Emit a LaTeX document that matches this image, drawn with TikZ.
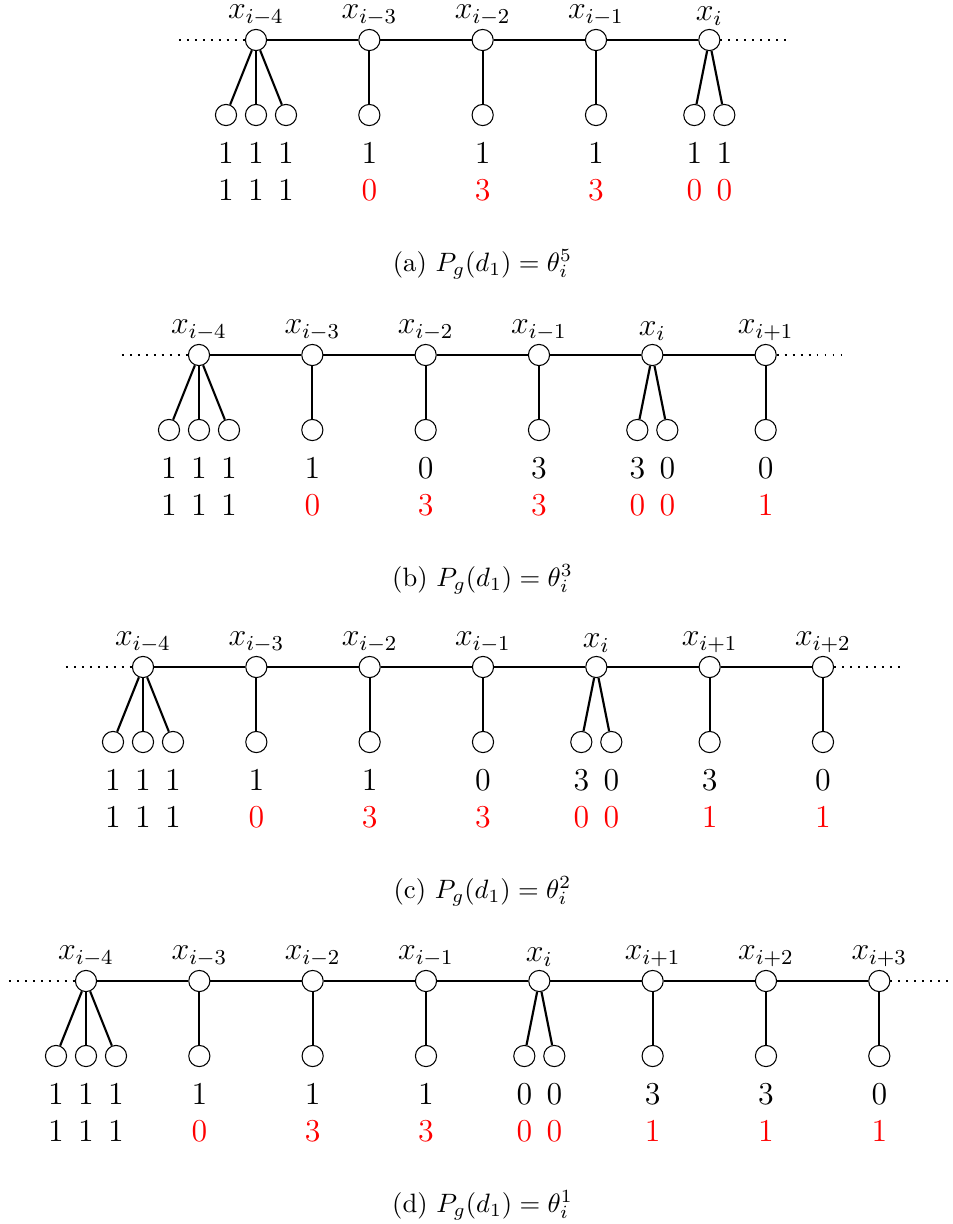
\documentclass[tikz,border=0pt]{standalone}
\usetikzlibrary{calc}
\newcommand\mkpanel[7]{%
  \foreach \k/\lab in {#5} {%
    \node[vtx, label={[lbl]above:$x_{\lab}$}] (#1\k) at ({#3+113.33*\k}, #2) {};
  }
  \foreach \k in {1,...,#4} {%
    \pgfmathtruncatemacro\kp{\k-1}
    \draw[edge] (#1\kp) -- (#1\k);
  }
  \coordinate (#1dl) at ($(#10.west)+(-66,0)$);
  \coordinate (#1dr) at ($(#1#4.east)+(66,0)$);
  \draw[dotline] (#1dl) -- (#10.west);
  \draw[dotline] (#1#4.east) -- (#1dr);
  \foreach \p/\o/\t/\b/\c [count=\j] in {#6} {%
    \node[vtx] (#1L\j) at ($(#1\p)+(\o,75)$) {};
    \draw[edge] (#1\p) -- (#1L\j);
    \node[numtxt] (#1T\j) at ($(#1L\j)+(0,38)$) {\t};
    \node[numtxt, text=\c] (#1B\j) at ($(#1L\j)+(0,75)$) {\b};
  }
  \node[captxt] (#1cap) at (482.5, #2+224) {#7};
}
\begin{document}
\begin{tikzpicture}[x=0.013235cm,y=-0.013235cm,
  vtx/.style={circle,draw,thin,fill=white,minimum size=0.28cm,inner sep=0pt},
  lbl/.style={inner sep=1pt,font=\fontsize{12}{14}\selectfont},
  edge/.style={thick},
  dotline/.style={line width=0.7pt,dash pattern=on 0.7pt off 2.3pt},
  numtxt/.style={inner sep=0pt,font=\fontsize{12}{14}\selectfont},
  captxt/.style={inner sep=0pt,font=\fontsize{10}{12}\selectfont}]
\useasboundingbox (0,0) rectangle (953,1224);

\mkpanel{a}{40}{256}{4}{0/i-4,1/i-3,2/i-2,3/i-1,4/i}
  {0/-30/1/1/black,0/0/1/1/black,0/30/1/1/black,1/0/1/0/red,2/0/1/3/red,3/0/1/3/red,4/-15/1/0/red,4/15/1/0/red}
  {(a) $P_g(d_1)=\theta_i^5$}

\mkpanel{b}{355}{199}{5}{0/i-4,1/i-3,2/i-2,3/i-1,4/i,5/i+1}
  {0/-30/1/1/black,0/0/1/1/black,0/30/1/1/black,1/0/1/0/red,2/0/0/3/red,3/0/3/3/red,4/-15/3/0/red,4/15/0/0/red,5/0/0/1/red}
  {(b) $P_g(d_1)=\theta_i^3$}

\mkpanel{c}{667}{143}{6}{0/i-4,1/i-3,2/i-2,3/i-1,4/i,5/i+1,6/i+2}
  {0/-30/1/1/black,0/0/1/1/black,0/30/1/1/black,1/0/1/0/red,2/0/1/3/red,3/0/0/3/red,4/-15/3/0/red,4/15/0/0/red,5/0/3/1/red,6/0/0/1/red}
  {(c) $P_g(d_1)=\theta_i^2$}

\mkpanel{d}{981}{86}{7}{0/i-4,1/i-3,2/i-2,3/i-1,4/i,5/i+1,6/i+2,7/i+3}
  {0/-30/1/1/black,0/0/1/1/black,0/30/1/1/black,1/0/1/0/red,2/0/1/3/red,3/0/1/3/red,4/-15/0/0/red,4/15/0/0/red,5/0/3/1/red,6/0/3/1/red,7/0/0/1/red}
  {(d) $P_g(d_1)=\theta_i^1$}
\end{tikzpicture}
\end{document}
